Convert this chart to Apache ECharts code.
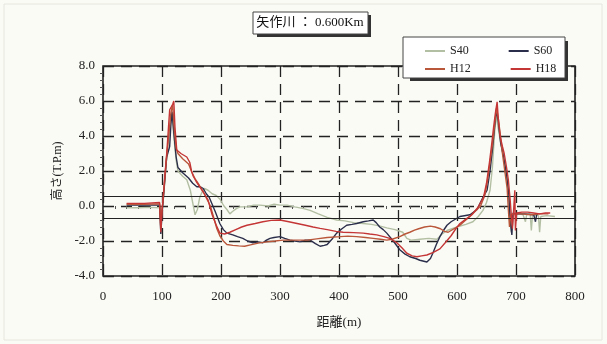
<!DOCTYPE html>
<html>
<head>
<meta charset="utf-8">
<script src="https://cdn.jsdelivr.net/npm/echarts/dist/echarts.min.js"></script>
<style>
  html, body { margin: 0; padding: 0; background: #fbfbf6; }
  #chart { width: 607px; height: 344px; }
</style>
</head>
<body>
<div id="chart"></div>
<script>
// 横断面データ [距離(m), 高さ(T.P.m)]
const s40 = [[40,-0.1],[60,-0.1],[80,-0.08],[96,-0.1],[98,-1.0],[100,-0.2],[102,0.3],[105,1.5],[108,2.8],[112,4.0],[115,5.0],[117,5.3],[120,4.0],[124,2.6],[127,2.0],[135,1.7],[142,1.5],[148,0.9],[152,0.2],[156,-0.5],[160,-0.2],[164,0.5],[168,0.8],[172,1.0],[178,0.9],[185,0.7],[192,0.6],[198,0.4],[205,0.0],[210,-0.2],[215,-0.45],[220,-0.3],[226,-0.15],[232,-0.05],[245,-0.05],[255,0.05],[266,0.05],[280,0.0],[290,0.1],[300,0.05],[312,0.05],[325,-0.05],[340,-0.15],[351,-0.25],[365,-0.45],[380,-0.65],[396,-0.8],[410,-0.85],[425,-0.95],[441,-1.0],[455,-1.05],[470,-1.15],[481,-1.25],[495,-1.35],[508,-1.5],[515,-1.85],[522,-1.95],[537,-1.9],[552,-1.85],[566,-1.9],[575,-1.6],[583,-1.4],[600,-1.2],[615,-1.05],[627,-0.9],[636,-0.6],[644,-0.25],[650,0.2],[656,0.9],[660,2.2],[663,3.8],[666,5.2],[669,4.6],[673,3.8],[678,3.0],[683,2.0],[687,0.8],[690,-0.6],[692,-1.5],[694,-0.5],[700,-0.5],[706,-0.45],[712,-0.5],[716,-0.9],[718,-0.5],[724,-0.45],[726,-1.4],[728,-0.5],[738,-0.55],[740,-1.5],[742,-0.6],[752,-0.55],[766,-0.6]];
const s60 = [[40,0.05],[70,0.05],[96,0.05],[98,-1.6],[100,-0.5],[102,0.3],[105,1.6],[108,2.8],[113,3.4],[115,4.6],[117,5.4],[120,4.2],[124,2.8],[127,2.2],[135,1.9],[145,1.6],[152,1.3],[159,1.1],[165,1.1],[170,1.0],[175,0.7],[180,0.5],[185,0.1],[190,-0.3],[198,-1.0],[204,-1.35],[210,-1.55],[220,-1.65],[228,-1.75],[237,-1.85],[245,-2.0],[254,-2.1],[263,-2.05],[271,-2.1],[277,-1.95],[283,-1.85],[290,-1.8],[300,-1.75],[308,-1.85],[317,-1.95],[325,-2.0],[334,-2.05],[343,-1.95],[351,-1.95],[360,-2.15],[368,-2.3],[375,-2.25],[380,-2.2],[388,-1.9],[396,-1.55],[405,-1.3],[413,-1.1],[422,-1.05],[430,-1.0],[441,-0.9],[450,-0.85],[458,-0.8],[463,-0.95],[469,-1.2],[475,-1.35],[481,-1.55],[492,-2.0],[503,-2.5],[512,-2.75],[520,-2.9],[530,-3.0],[537,-3.1],[549,-3.2],[555,-3.0],[559,-2.7],[565,-2.2],[571,-1.75],[577,-1.4],[583,-1.1],[590,-0.9],[605,-0.6],[622,-0.5],[634,-0.2],[644,0.5],[651,0.9],[656,2.0],[660,3.2],[664,4.6],[667,5.5],[670,4.8],[674,3.6],[679,2.8],[684,1.8],[688,0.6],[690,-0.8],[693,-1.65],[695,-0.4],[700,-0.45],[715,-0.45],[730,-0.5],[733,-0.9],[735,-0.5],[737,-0.45]];
const h12 = [[40,0.1],[70,0.1],[96,0.12],[98,-1.3],[100,-0.2],[102,0.4],[105,1.7],[108,2.9],[112,4.2],[115,5.3],[118,5.8],[121,4.3],[124,3.3],[127,3.0],[135,2.7],[145,2.4],[151,1.9],[157,1.5],[163,1.2],[170,0.8],[176,0.4],[182,0.0],[188,-0.7],[193,-1.3],[198,-1.7],[204,-2.0],[210,-2.2],[220,-2.25],[230,-2.28],[240,-2.3],[250,-2.22],[263,-2.12],[278,-2.05],[292,-2.0],[305,-1.95],[320,-1.95],[335,-1.95],[346,-1.95],[362,-1.88],[380,-1.8],[402,-1.75],[415,-1.72],[430,-1.75],[445,-1.8],[458,-1.85],[470,-1.9],[481,-1.95],[490,-1.9],[503,-1.75],[512,-1.6],[520,-1.5],[528,-1.38],[535,-1.3],[545,-1.2],[555,-1.15],[563,-1.2],[572,-1.3],[579,-1.45],[585,-1.5],[595,-1.3],[605,-1.1],[613,-0.85],[622,-0.6],[631,-0.3],[640,0.0],[647,0.6],[652,1.5],[656,2.5],[660,3.5],[664,4.7],[667,5.6],[670,5.0],[673,4.2],[677,3.0],[681,2.0],[685,1.0],[687,-0.2],[689,-1.2],[691,-0.5],[695,-0.45],[710,-0.45],[725,-0.5],[740,-0.45],[755,-0.45]];
const h18 = [[40,0.15],[70,0.15],[96,0.2],[98,-1.5],[100,-0.3],[102,0.5],[105,1.8],[108,3.0],[111,4.5],[113,5.5],[116,5.6],[118,5.8],[120,6.0],[122,4.5],[125,3.2],[132,3.0],[142,2.8],[147,2.5],[150,2.0],[153,1.7],[158,1.4],[164,1.1],[170,0.8],[178,0.35],[185,-0.5],[192,-1.1],[198,-1.55],[206,-1.6],[215,-1.5],[225,-1.35],[235,-1.2],[244,-1.1],[258,-1.0],[271,-0.9],[285,-0.82],[300,-0.8],[315,-0.9],[329,-1.0],[343,-1.1],[356,-1.2],[368,-1.28],[380,-1.35],[395,-1.45],[407,-1.5],[425,-1.52],[441,-1.55],[452,-1.6],[464,-1.65],[476,-1.75],[486,-1.85],[498,-2.1],[507,-2.4],[515,-2.7],[524,-2.85],[532,-2.9],[540,-2.85],[549,-2.8],[560,-2.65],[571,-2.45],[580,-2.1],[590,-1.7],[598,-1.3],[605,-1.0],[615,-0.75],[625,-0.5],[635,-0.1],[645,0.5],[650,1.3],[655,2.5],[659,3.6],[662,4.5],[665,5.3],[668,5.95],[670,5.0],[673,4.0],[677,3.4],[680,3.0],[684,2.2],[687,1.5],[690,0.4],[692,-0.5],[694,-1.3],[696,-0.2],[698,0.9],[699,-1.4],[701,-0.4],[710,-0.35],[720,-0.35],[730,-0.4],[740,-0.45],[750,-0.4],[758,-0.4]];
// 水位線 (T.P.m)
const waterLevels = [0.55, -0.68];

const serif = "'Liberation Serif','DejaVu Serif','Noto Sans CJK JP',serif";
const ink = '#222';

const chart = echarts.init(document.getElementById('chart'));

const lineSeries = (name, data, color, z) => ({
  name: name,
  type: 'line',
  data: data,
  showSymbol: false,
  symbol: 'none',
  z: z,
  lineStyle: { color: color, width: 1.4 },
  itemStyle: { color: color },
  animation: false
});

const legendBase = {
  left: 420,
  itemWidth: 20,
  itemHeight: 2,
  icon: 'rect',
  itemGap: 40,
  textStyle: { fontFamily: serif, fontSize: 12, color: ink },
  z: 20
};

const option = {
  backgroundColor: '#fbfbf6',
  animation: false,
  grid: {
    left: 103, right: 32, top: 66, bottom: 68,
    show: true, borderColor: ink, borderWidth: 1.6, backgroundColor: 'transparent'
  },
  legend: [
    Object.assign({}, legendBase, { top: 40, data: ['S40', 'S60'] }),
    Object.assign({}, legendBase, { top: 58, data: ['H12', 'H18'] })
  ],
  xAxis: {
    type: 'value', min: 0, max: 800, interval: 100,
    name: '距離(m)', nameLocation: 'middle', nameGap: 40,
    nameTextStyle: { fontFamily: serif, fontSize: 13, color: ink },
    axisLine: { show: false },
    axisTick: { show: false },
    minorTick: { show: true, splitNumber: 5, length: 3, lineStyle: { color: '#555' } },
    axisLabel: { fontFamily: serif, fontSize: 13, color: ink, margin: 14 },
    splitLine: { show: true, lineStyle: { color: ink, width: 1.3, type: [11, 7] } }
  },
  yAxis: {
    type: 'value', min: -4, max: 8, interval: 2,
    name: '高さ(T.P.m)', nameLocation: 'middle', nameGap: 26,
    nameTextStyle: { fontFamily: serif, fontSize: 12, color: ink },
    axisLine: { show: false },
    axisTick: { show: false },
    minorTick: { show: true, splitNumber: 5, length: 3, lineStyle: { color: '#555' } },
    axisLabel: { fontFamily: serif, fontSize: 13, color: ink, margin: 8, formatter: v => v.toFixed(1) },
    splitLine: { show: true, lineStyle: { color: ink, width: 1.3, type: [11, 7] } }
  },
  graphic: [
    { type: 'rect', z: 10, shape: { x: 410, y: 41, width: 158, height: 40 }, style: { fill: '#333' } },
    { type: 'rect', z: 11, shape: { x: 403, y: 37, width: 162, height: 41 }, style: { fill: '#fff', stroke: '#444', lineWidth: 1 } },
    { type: 'rect', z: 10, shape: { x: 257, y: 15, width: 114, height: 22 }, style: { fill: '#333' } },
    { type: 'rect', z: 11, shape: { x: 253, y: 12, width: 115, height: 22 }, style: { fill: '#fff', stroke: '#444', lineWidth: 1 } },
    { type: 'text', z: 12, x: 310, y: 23, style: { text: '矢作川 ： 0.600Km', fontFamily: serif, fontSize: 13, fill: '#111', align: 'center', verticalAlign: 'middle' } },
    { type: 'rect', z: -1, silent: true, shape: { x: 4, y: 4, width: 598, height: 336 }, style: { fill: 'none', stroke: '#e6e6df', lineWidth: 1 } }
  ],
  series: [
    Object.assign(lineSeries('S40', s40, '#b3bfa2', 2), {
      markLine: {
        silent: true, symbol: 'none', label: { show: false },
        lineStyle: { color: ink, type: 'solid', width: 1.2 },
        data: waterLevels.map(v => ({ yAxis: v }))
      }
    }),
    lineSeries('S60', s60, '#2b2e4a', 3),
    lineSeries('H12', h12, '#b9573a', 4),
    lineSeries('H18', h18, '#c43636', 5)
  ]
};

chart.setOption(option);
</script>
</body>
</html>
